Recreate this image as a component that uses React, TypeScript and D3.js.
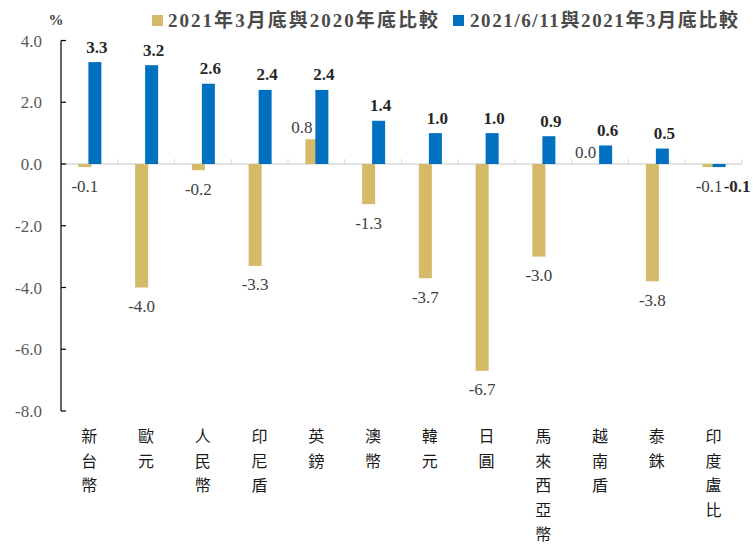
import React from 'react';
import * as d3 from 'd3';

const categories = ['新台幣', '歐元', '人民幣', '印尼盾', '英鎊', '澳幣', '韓元', '日圓', '馬來西亞幣', '越南盾', '泰銖', '印度盧比'];
const seriesGold = [-0.1, -4.0, -0.2, -3.3, 0.8, -1.3, -3.7, -6.7, -3.0, 0.0, -3.8, -0.1];
const seriesBlue = [3.3, 3.2, 2.6, 2.4, 2.4, 1.4, 1.0, 1.0, 0.9, 0.6, 0.5, -0.1];
const seriesNames = ['2021年3月底與2020年底比較', '2021/6/11與2021年3月底比較'];
const yTicks = [-8, -6, -4, -2, 0, 2, 4];

const W = 753;
const H = 545;
const GOLD = '#D4BA69';
const BLUE = '#0070C0';
const SERIF = "'Liberation Serif', 'Times New Roman', 'Noto Sans CJK TC', serif";
const CJK = "'Noto Sans CJK TC', 'Noto Sans CJK JP', sans-serif";

export default function App() {
  const x = d3.scaleBand<string>().domain(categories).range([61, 742]).paddingInner(0).paddingOuter(0);
  const y = d3.scaleLinear().domain([-8, 4]).range([411, 40.5]);
  const bw = 13;
  const y0 = y(0);

  return (
    <svg width={W} height={H} style={{ position: 'absolute', left: 0, top: 0, background: '#fff' }}>
      {/* zero line */}
      <line x1={61} x2={742} y1={y0} y2={y0} stroke="#D9D9D9" strokeWidth={1.5} />
      {categories.map((c, i) => (
        <line key={'bt' + i} x1={(x(c) as number) + x.bandwidth()} x2={(x(c) as number) + x.bandwidth()} y1={y0 - 5} y2={y0} stroke="#D9D9D9" strokeWidth={1} />
      ))}
      {/* bars */}
      {categories.map((c, i) => {
        const cx = (x(c) as number) + x.bandwidth() / 2;
        const g = seriesGold[i];
        const b = seriesBlue[i];
        return (
          <g key={'bars' + i}>
            <rect x={cx - 11} width={bw} y={Math.min(y(g), y0)} height={Math.abs(y(g) - y0)} fill={GOLD} />
            <rect x={cx - 1} width={bw} y={Math.min(y(b), y0)} height={Math.abs(y(b) - y0)} fill={BLUE} />
          </g>
        );
      })}
      {/* labels */}
      {categories.map((c, i) => {
        const cx = (x(c) as number) + x.bandwidth() / 2;
        const g = seriesGold[i];
        const b = seriesBlue[i];
        const gx = cx - 11 + bw / 2;
        const bx = cx - 1 + bw / 2;
        return (
          <g key={'lab' + i}>
            <text
              x={g >= 0 ? gx - 10 : gx}
              y={g >= 0 ? y(g) - 6 : y(g) + 24.5}
              textAnchor="middle"
              fontFamily={SERIF}
              fontSize={17}
              fill="#404040"
            >
              {g.toFixed(1)}
            </text>
            <text
              x={b >= 0 ? bx + 2 : bx + 18}
              y={b >= 0 ? y(b) - 9.5 : y(b) + 24.5}
              textAnchor="middle"
              fontFamily={SERIF}
              fontSize={17}
              fontWeight="bold"
              fill="#262626"
            >
              {b.toFixed(1)}
            </text>
          </g>
        );
      })}
      {/* y axis */}
      <line x1={61} x2={61} y1={y(4)} y2={y(-8)} stroke="#000" strokeWidth={1.2} />
      {yTicks.map((t) => (
        <g key={'yt' + t}>
          <line x1={61} x2={66} y1={y(t)} y2={y(t)} stroke="#000" strokeWidth={1.2} />
          <text x={42} y={y(t) + 6} textAnchor="end" fontFamily={SERIF} fontSize={17} fill="#595959">
            {t.toFixed(1)}
          </text>
        </g>
      ))}
      <text x={56} y={25} textAnchor="middle" fontFamily={SERIF} fontSize={15} fontWeight="bold" fill="#404040">%</text>
      {/* category labels */}
      {categories.map((c, i) => {
        const cx = (x(c) as number) + x.bandwidth() / 2;
        return (
          <text key={'cl' + i} fontFamily={CJK} fontSize={16} fill="#1a1a1a" textAnchor="middle">
            {Array.from(c).map((ch, j) => (
              <tspan key={j} x={cx} y={442 + j * 24.5}>{ch}</tspan>
            ))}
          </text>
        );
      })}
      {/* legend */}
      <rect x={152} y={15} width={11} height={11} fill={GOLD} />
      <text x={168} y={27} fontFamily={SERIF} fontSize={19} fontWeight="bold" fill="#4a4a4a" textLength={270} lengthAdjust="spacing">
        {seriesNames[0]}
      </text>
      <rect x={453} y={15} width={11} height={11} fill={BLUE} />
      <text x={470} y={27} fontFamily={SERIF} fontSize={19} fontWeight="bold" fill="#4a4a4a" textLength={268} lengthAdjust="spacing">
        {seriesNames[1]}
      </text>
    </svg>
  );
}
